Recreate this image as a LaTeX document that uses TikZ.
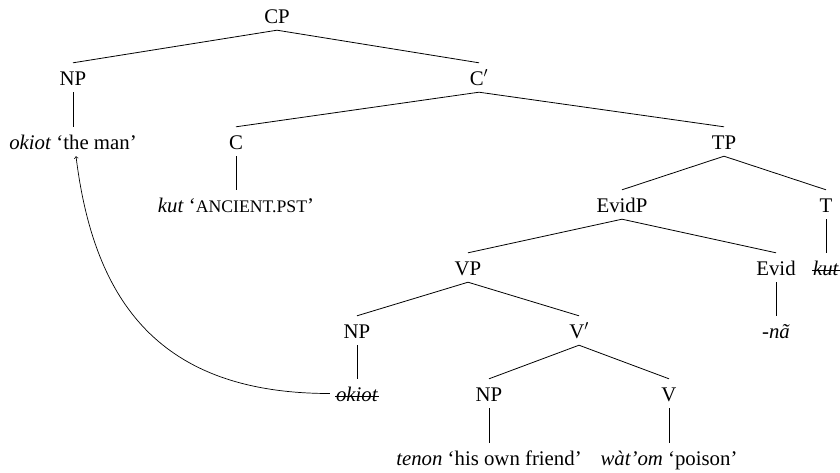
\documentclass[tikz,border=0pt]{standalone}
\usepackage{fontspec}
\setmainfont{Liberation Serif}

\begin{document}
\begin{tikzpicture}
[x=1pt,y=-1pt,%
  treeLine/.style={line width=0.8pt},%
  moveArrow/.style={->,line width=0.7pt},%
  nodeLabel/.style={anchor=base,inner xsep=1pt,inner ysep=0pt,text height=22pt,text depth=7pt},%
  struckOut/.style={path picture={\draw[line width=0.8pt]
    ([yshift=-2.5pt]path picture bounding box.west) -- ([yshift=-2.5pt]path picture bounding box.east);}},%
  font=\fontsize{20.8}{25}\selectfont]
\useasboundingbox (0,0) rectangle (840,472);
%% nodes of the tree
\foreach \nodename/\x/\y/\nodetext in {cp/277/23/CP, np/73/85/NP, cbar/479/85/{C$'$},
  c/236/149/C, tp/724/149/TP, evidp/622/212/EvidP, t/826/212/T,
  vp/468/275/VP, evid/776/275/Evid, npsubj/357/338/NP, vbar/579/338/{V$'$},
  npobj/489/401/NP, v/669/401/V}
{
  \node (\nodename) at (\x,\y) [nodeLabel] {\nodetext};
}
%% leaves
\foreach \nodename/\x/\y/\nodetext in {
  man/73/149/{\textit{okiot} `the man'},
  kut/236/212/{\textit{kut} `{\fontsize{17.7}{20}\selectfont ANCIENT.PST}'},
  na/776/338/{\textit{-nã}},
  tenon/489/465/{\textit{tenon} `his own friend'},
  watom/669/465/{\textit{wàt'om} `poison'}}
{
  \node (\nodename) at (\x,\y) [nodeLabel] {\nodetext};
}
%% struck copies
\node (kutcopy) at (826,275) [nodeLabel,struckOut] {\textit{kut}};
\node (okiot) at (357,401) [nodeLabel,struckOut] {\textit{okiot}};
%% branches
\path
\foreach \startnode/\endnode in {cp/np, cp/cbar, np/man, cbar/c, cbar/tp, c/kut,
  tp/evidp, tp/t, t/kutcopy, evidp/vp, evidp/evid, evid/na, vp/npsubj, vp/vbar,
  npsubj/okiot, vbar/npobj, vbar/v, npobj/tenon, v/watom}
{
  (\startnode.south) edge[treeLine] (\endnode.north)
};
%% movement
\draw[moveArrow] ([xshift=-5pt]okiot.west) .. controls +(-170,0) and +(18,146) .. ([xshift=3pt]man.south);
\end{tikzpicture}
\end{document}
